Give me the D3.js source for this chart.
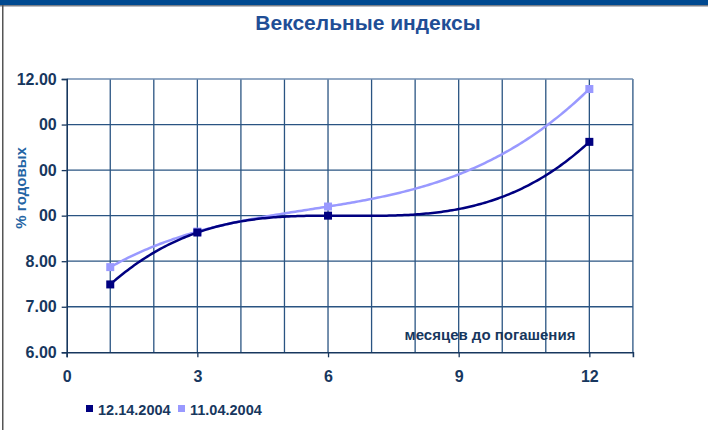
<!DOCTYPE html>
<html>
<head>
<meta charset="utf-8">
<script src="https://cdn.jsdelivr.net/npm/d3@7"></script>
<style>
  body { margin: 0; background: #fff; }
  svg text { font-family: "Liberation Sans", Arial, sans-serif; font-weight: bold; }
</style>
</head>
<body>
<script>
// months to maturity
var months = [1, 3, 6, 12];
// series values, % per year
var dec14 = [7.49, 8.63, 9.0, 10.62];
var nov04 = [7.87, 8.65, 9.2, 11.78];
var seriesNames = ["12.14.2004", "11.04.2004"];
var xTicks = [0, 3, 6, 9, 12];
var yTicks = [6, 7, 8, 9, 10, 11, 12];
var yTickLabels = ["6.00", "7.00", "8.00", "00", "00", "00", "12.00"];

var width = 708, height = 430;
var navy = "#17375e", grid = "#2a5482";

var svg = d3.select("body").append("svg")
  .attr("width", width)
  .attr("height", height);

// top band and left frame line
svg.append("rect").attr("x", 0).attr("y", 0).attr("width", width).attr("height", 5).attr("fill", "#004990");
svg.append("rect").attr("x", 0).attr("y", 5).attr("width", width).attr("height", 1.5).attr("fill", "#7a7f88");
svg.append("rect").attr("x", 2).attr("y", 5).attr("width", 1.5).attr("height", height).attr("fill", "#555");

var x = d3.scaleLinear().domain([0, 13]).range([66.7, 632.9]);
var y = d3.scaleLinear().domain([6, 12]).range([352.3, 79]);

svg.append("text")
  .attr("x", 368).attr("y", 30)
  .attr("text-anchor", "middle")
  .attr("font-size", 21)
  .attr("fill", "#1f4e96")
  .text("Вексельные индексы");

// grid
svg.append("g").selectAll("line")
  .data(d3.range(1, 14))
  .join("line")
  .attr("x1", d => x(d)).attr("x2", d => x(d))
  .attr("y1", y(12)).attr("y2", y(6))
  .attr("stroke", grid).attr("stroke-width", 1.3);

svg.append("g").selectAll("line")
  .data(d3.range(7, 12))
  .join("line")
  .attr("x1", x(0)).attr("x2", x(13))
  .attr("y1", d => y(d)).attr("y2", d => y(d))
  .attr("stroke", grid).attr("stroke-width", 1.3);

svg.append("line")
  .attr("x1", x(0)).attr("x2", x(13))
  .attr("y1", y(12)).attr("y2", y(12))
  .attr("stroke", "#6f8db0").attr("stroke-width", 1.6);

// axes
var xAxis = d3.axisBottom(x).tickValues(xTicks).tickSize(5).tickPadding(13);
var gx = svg.append("g").attr("transform", "translate(0," + y(6) + ")").call(xAxis);
var yAxis = d3.axisLeft(y).tickValues(yTicks).tickSize(5).tickPadding(5)
  .tickFormat((d, i) => yTickLabels[i]);
var gy = svg.append("g").attr("transform", "translate(" + x(0) + ",0)").call(yAxis);

[gx, gy].forEach(function(g) {
  g.select(".domain").attr("stroke", navy).attr("stroke-width", 1.6);
  g.selectAll(".tick line").attr("stroke", navy).attr("stroke-width", 1.3);
  g.selectAll(".tick text").attr("fill", navy).attr("font-size", 16)
    .attr("font-family", "Liberation Sans, Arial, sans-serif").attr("font-weight", "bold");
});

svg.append("text")
  .attr("x", 490).attr("y", 340)
  .attr("text-anchor", "middle")
  .attr("font-size", 15)
  .attr("fill", navy)
  .text("месяцев до погашения");

svg.append("text")
  .attr("transform", "translate(26,188) rotate(-90)")
  .attr("text-anchor", "middle")
  .attr("font-size", 15)
  .attr("fill", "#2464a4")
  .text("% годовых");

// cubic polynomial trendline (least squares fit of the points)
function polyFit(xs, ys, deg) {
  var n = deg + 1;
  var A = [], b = [];
  for (var r = 0; r < n; r++) {
    A.push([]);
    for (var c = 0; c < n; c++) A[r].push(d3.sum(xs, v => Math.pow(v, r + c)));
    b.push(d3.sum(xs, (v, i) => ys[i] * Math.pow(v, r)));
  }
  for (var k = 0; k < n; k++) {
    var p = k;
    for (var r2 = k + 1; r2 < n; r2++) if (Math.abs(A[r2][k]) > Math.abs(A[p][k])) p = r2;
    [A[k], A[p]] = [A[p], A[k]]; [b[k], b[p]] = [b[p], b[k]];
    for (var r3 = k + 1; r3 < n; r3++) {
      var f = A[r3][k] / A[k][k];
      for (var c2 = k; c2 < n; c2++) A[r3][c2] -= f * A[k][c2];
      b[r3] -= f * b[k];
    }
  }
  var coef = new Array(n).fill(0);
  for (var k2 = n - 1; k2 >= 0; k2--) {
    var s = b[k2];
    for (var c3 = k2 + 1; c3 < n; c3++) s -= A[k2][c3] * coef[c3];
    coef[k2] = s / A[k2][k2];
  }
  return v => d3.sum(coef, (a, i) => a * Math.pow(v, i));
}

var series = [
  { name: seriesNames[1], values: nov04, color: "#9999ff" },
  { name: seriesNames[0], values: dec14, color: "#000080" }
];

var line = d3.line().x(d => x(d[0])).y(d => y(d[1]));
var xs = d3.range(months[0], months[months.length - 1] + 0.001, 0.05);

series.forEach(function(s) {
  var fit = polyFit(months, s.values, 3);
  svg.append("path")
    .datum(xs.map(v => [v, fit(v)]))
    .attr("d", line)
    .attr("fill", "none")
    .attr("stroke", s.color)
    .attr("stroke-width", 2.5);
  svg.append("g").selectAll("rect")
    .data(months)
    .join("rect")
    .attr("x", (d) => x(d) - 4)
    .attr("y", (d, i) => y(s.values[i]) - 4)
    .attr("width", 8).attr("height", 8)
    .attr("fill", s.color);
});

// legend
var legend = svg.append("g").attr("transform", "translate(86,409)");
[{ name: seriesNames[0], color: "#000080", dx: 0 }, { name: seriesNames[1], color: "#9999ff", dx: 92 }]
  .forEach(function(l) {
    legend.append("rect").attr("x", l.dx).attr("y", -4).attr("width", 7).attr("height", 7).attr("fill", l.color);
    legend.append("text").attr("x", l.dx + 12).attr("y", 6)
      .attr("font-size", 14.5).attr("fill", navy).text(l.name);
  });
</script>
</body>
</html>
